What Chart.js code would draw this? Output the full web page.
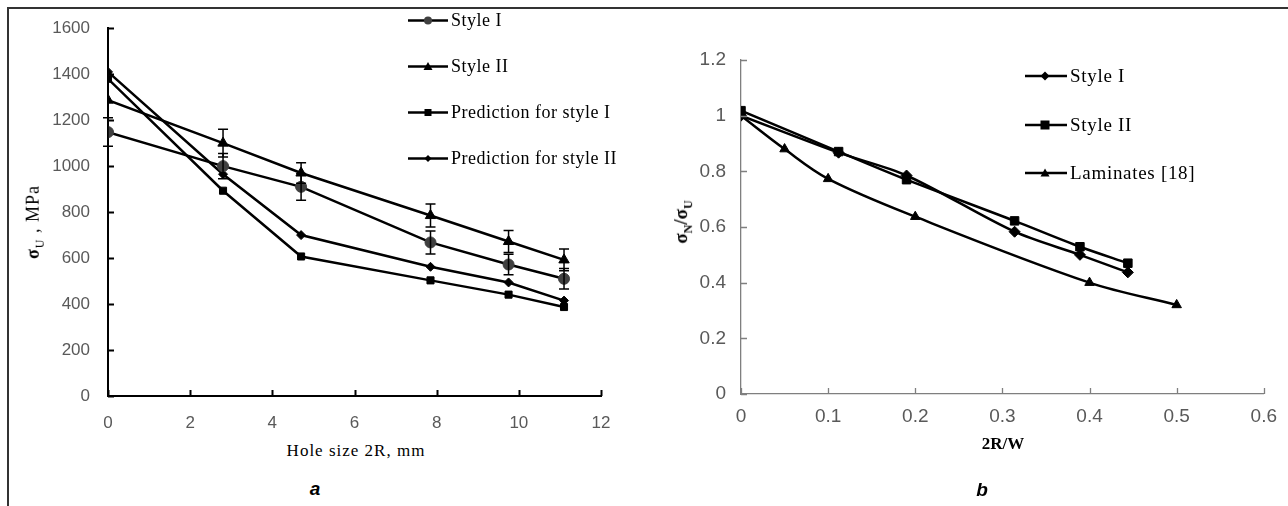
<!DOCTYPE html>
<html>
<head>
<meta charset="utf-8">
<script src="https://cdn.jsdelivr.net/npm/chart.js@4.4.1/dist/chart.umd.min.js"></script>
<style>
  body { margin: 0; background: #fff; width: 1288px; height: 506px; overflow: hidden; position: relative; }
  .frame { position: absolute; left: 7px; top: 7px; right: -2px; bottom: -2px; border-top: 2px solid #333; border-left: 2px solid #333; }
  .box { position: absolute; top: 0; }
  .serif { font-family: "Liberation Serif", "Times New Roman", serif; color: #000; }
  .ytitle { position: absolute; transform: translate(-50%, -50%) rotate(-90deg); white-space: nowrap; font-size: 18px; }
  .xtitle { position: absolute; transform: translate(-50%, -50%); white-space: nowrap; font-size: 17px; }
  .panel { position: absolute; transform: translate(-50%, -50%); font-family: "Liberation Sans", Arial, sans-serif; font-weight: bold; font-style: italic; font-size: 19px; }
  .legend { position: absolute; }
  .legend div { position: absolute; left: 0; white-space: nowrap; display: flex; align-items: center; transform: translateY(-50%); }
  .legend svg { margin-right: 3px; }
</style>
</head>
<body>
<div class="frame"></div>
<canvas id="chartA" class="box" width="640" height="440" style="left:0"></canvas>
<canvas id="chartB" class="box" width="648" height="440" style="left:640px"></canvas>

<div class="ytitle serif" style="left:35px; top:222px; letter-spacing:1px;"><b>σ</b><sub style="font-size:12px">U</sub> , MPa</div>
<div class="xtitle serif" style="left:356px; top:451px; letter-spacing:1px;">Hole size 2R, mm</div>
<div class="panel" style="left:315px; top:489px;">a</div>

<div class="ytitle serif" style="left:683px; top:222px; font-size:19px;"><b>σ<sub style="font-size:12px">N</sub>/σ<sub style="font-size:12px">U</sub></b></div>
<div class="xtitle serif" style="left:1003px; top:444px; font-weight:bold;">2R/W</div>
<div class="panel" style="left:982px; top:490px;">b</div>

<div class="legend serif" id="legendA" style="left:408px; top:0; font-size:18px; letter-spacing:0.5px;"></div>
<div class="legend serif" id="legendB" style="left:1025px; top:0; font-size:19px; letter-spacing:0.7px;"></div>

<script>
// panel a: strength vs hole size
const holeSize = [0, 2.8, 4.7, 7.85, 9.75, 11.1];
const styleI = [1148, 1000, 910, 668, 572, 510];
const styleIErr = [62, 55, 58, 50, 45, 45];
const styleII = [1287, 1100, 970, 785, 672, 592];
const styleIIErr = [0, 60, 45, 50, 48, 47];
const predI = [1380, 893, 607, 503, 441, 387];
const predII = [1410, 965, 700, 562, 494, 415];
const xTicksA = [0, 2, 4, 6, 8, 10, 12];
const yTicksA = [0, 200, 400, 600, 800, 1000, 1200, 1400, 1600];

// panel b: normalized strength vs 2R/W
const ratioB = [0, 0.112, 0.19, 0.314, 0.389, 0.444];
const normI = [1.0, 0.867, 0.785, 0.583, 0.5, 0.437];
const normII = [1.018, 0.871, 0.77, 0.622, 0.529, 0.47];
const lamX = [0, 0.05, 0.1, 0.2, 0.4, 0.5];
const lamY = [1.0, 0.88, 0.773, 0.637, 0.4, 0.32];
const xTicksB = [0, 0.1, 0.2, 0.3, 0.4, 0.5, 0.6];
const yTicksB = [0, 0.2, 0.4, 0.6, 0.8, 1, 1.2];

const pts = (xs, ys) => xs.map((x, i) => ({ x: x, y: ys[i] }));

// error bars from ds.errors
const errorBars = {
  id: "errorBars",
  afterDatasetsDraw(chart) {
    const { ctx, scales: { x, y } } = chart;
    chart.data.datasets.forEach(ds => {
      if (!ds.errors) return;
      ctx.save();
      ctx.strokeStyle = "#000";
      ctx.lineWidth = 1.5;
      ds.data.forEach((p, i) => {
        const e = ds.errors[i];
        if (!e) return;
        const px = x.getPixelForValue(p.x);
        const top = y.getPixelForValue(p.y + e);
        const bot = y.getPixelForValue(p.y - e);
        ctx.beginPath();
        ctx.moveTo(px, top); ctx.lineTo(px, bot);
        ctx.moveTo(px - 5, top); ctx.lineTo(px + 5, top);
        ctx.moveTo(px - 5, bot); ctx.lineTo(px + 5, bot);
        ctx.stroke();
      });
      ctx.restore();
    });
  }
};

// tick marks pointing into the plot, like the original
const innerTicks = {
  id: "innerTicks",
  afterDraw(chart, args, opts) {
    const { ctx, chartArea, scales: { x, y } } = chart;
    ctx.save();
    ctx.strokeStyle = opts.color;
    ctx.lineWidth = opts.width;
    ctx.beginPath();
    x.ticks.forEach(t => {
      const px = Math.round(x.getPixelForValue(t.value)) + 0.5;
      ctx.moveTo(px, chartArea.bottom); ctx.lineTo(px, chartArea.bottom - 6);
    });
    y.ticks.forEach(t => {
      const py = Math.round(y.getPixelForValue(t.value)) + 0.5;
      ctx.moveTo(chartArea.left, py); ctx.lineTo(chartArea.left + 6, py);
    });
    ctx.stroke();
    ctx.restore();
  }
};

function axis(min, max, values, size, pad, fit, color, bw) {
  return {
    type: "linear", min: min, max: max,
    afterBuildTicks: s => { s.ticks = values.map(v => ({ value: v })); },
    ticks: { font: { family: "Liberation Sans, Arial, sans-serif", size: size }, color: "#595959",
             padding: pad, autoSkip: false, maxRotation: 0, callback: v => String(v) },
    grid: { display: false, drawTicks: false },
    border: { display: true, color: color, width: bw },
    afterFit: fit
  };
}

function line(label, data, style, r, fill, extra) {
  return Object.assign({
    label: label, data: data,
    borderColor: "#000", borderWidth: 2.5,
    pointStyle: style, pointRadius: r, pointHoverRadius: r,
    pointBackgroundColor: fill, pointBorderColor: fill, pointBorderWidth: 1,
    tension: 0, fill: false
  }, extra || {});
}

new Chart(document.getElementById("chartA"), {
  type: "line",
  data: {
    datasets: [
      line("Style I", pts(holeSize, styleI), "circle", 5.5, "#404040", { errors: styleIErr }),
      line("Style II", pts(holeSize, styleII), "triangle", 6, "#000", { errors: styleIIErr }),
      line("Prediction for style I", pts(holeSize, predI), "rect", 5, "#000"),
      line("Prediction for style II", pts(holeSize, predII), "rectRot", 4.5, "#000")
    ]
  },
  options: {
    responsive: false, animation: false,
    layout: { padding: { top: 28, right: 39, left: 0, bottom: 0 } },
    plugins: { legend: { display: false }, tooltip: { enabled: false },
               innerTicks: { color: "#000", width: 2 } },
    scales: {
      x: axis(0, 12, xTicksA, 17, 17, s => { s.height = 44; }, "#000", 2),
      y: axis(0, 1600, yTicksA, 17, 18, s => { s.width = 108; }, "#000", 2)
    }
  },
  plugins: [errorBars, innerTicks]
});

new Chart(document.getElementById("chartB"), {
  type: "line",
  data: {
    datasets: [
      line("Style I", pts(ratioB, normI), "rectRot", 5.5, "#000", { tension: 0.3 }),
      line("Style II", pts(ratioB, normII), "rect", 6, "#000", { tension: 0.3 }),
      line("Laminates [18]", pts(lamX, lamY), "triangle", 5.5, "#000", { tension: 0.35 })
    ]
  },
  options: {
    responsive: false, animation: false,
    layout: { padding: { top: 60, right: 23, left: 0, bottom: 0 } },
    plugins: { legend: { display: false }, tooltip: { enabled: false },
               innerTicks: { color: "#7f7f7f", width: 1.3 } },
    scales: {
      x: axis(0, 0.6, xTicksB, 19, 11, s => { s.height = 46; }, "#7f7f7f", 1.3),
      y: axis(0, 1.2, yTicksB, 19, 15, s => { s.width = 101; }, "#7f7f7f", 1.3)
    }
  },
  plugins: [innerTicks]
});

// legends: line with marker, then label
function marker(kind, color, s) {
  const c = 20;
  if (kind === "circle") return `<circle cx="${c}" cy="8" r="${s}" fill="${color}"/>`;
  if (kind === "rect") return `<rect x="${c - s}" y="${8 - s}" width="${2 * s}" height="${2 * s}" fill="${color}"/>`;
  if (kind === "rectRot") return `<polygon points="${c},${8 - s} ${c + s},8 ${c},${8 + s} ${c - s},8" fill="${color}"/>`;
  return `<polygon points="${c},${8 - s} ${c + s},${8 + s * 0.8} ${c - s},${8 + s * 0.8}" fill="${color}"/>`;
}
function legend(el, items, ys, w) {
  el.innerHTML = items.map((it, i) =>
    `<div style="top:${ys[i]}px"><svg width="${w}" height="16"><line x1="0" y1="8" x2="${w}" y2="8" stroke="#000" stroke-width="2.5"/>${marker(it[1], it[2], it[3])}</svg>${it[0]}</div>`
  ).join("");
}
legend(document.getElementById("legendA"), [
  ["Style I", "circle", "#404040", 4],
  ["Style II", "triangle", "#000", 4.5],
  ["Prediction for style I", "rect", "#000", 3.5],
  ["Prediction for style II", "rectRot", "#000", 3.5]
], [20, 66, 112, 158], 40);
legend(document.getElementById("legendB"), [
  ["Style I", "rectRot", "#000", 4.5],
  ["Style II", "rect", "#000", 4.5],
  ["Laminates [18]", "triangle", "#000", 4.5]
], [76, 125, 173], 42);
</script>
</body>
</html>
